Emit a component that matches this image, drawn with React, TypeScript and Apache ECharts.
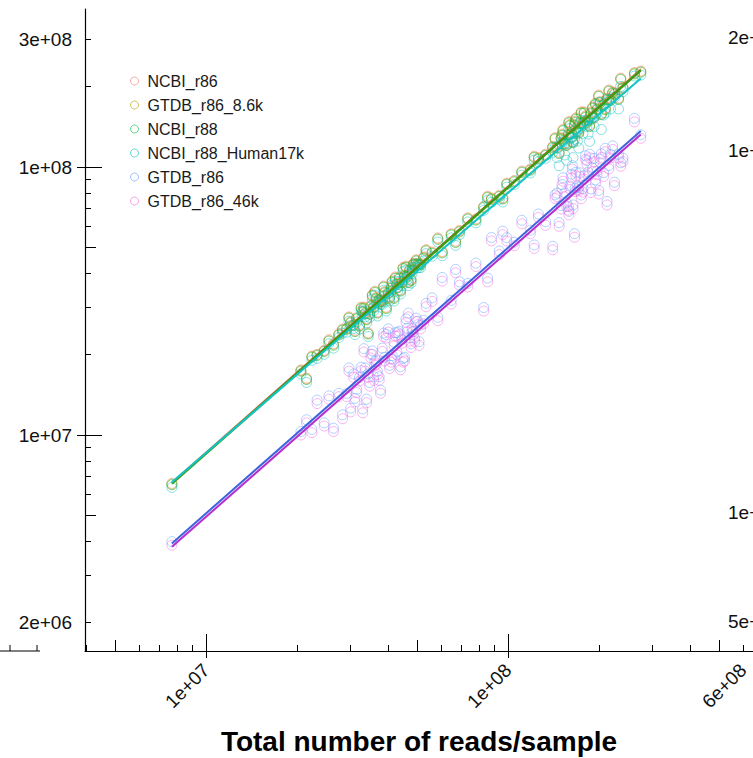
import React, { useEffect, useRef } from "react";
import * as echarts from "echarts";

const FONT = '"Liberation Sans", Arial, Helvetica, sans-serif';

const seriesNames = ["NCBI_r86", "GTDB_r86_8.6k", "NCBI_r88", "NCBI_r88_Human17k", "GTDB_r86", "GTDB_r86_46k"];
const pointColors = ["#F8766D", "#B79F00", "#00BA38", "#00BFC4", "#619CFF", "#F564E3"];
const lineColors = ["#E8604F", "#9A8500", "#3E9A12", "#12C4C4", "#3D63DE", "#B52ED0"];
const lineWidths = [1.2, 1.2, 2.4, 2, 2, 2];

// total reads per sample (millions)
const readsPerSample = [7.7, 20.6, 21.5, 22.4, 23.3, 24.6, 25.5, 26.4, 27.5, 29.2, 30.1, 30.8, 31.5, 32.2, 33.0, 33.6, 34.4, 35.1, 35.9, 36.6, 37.4, 38.3, 39.0, 40.1, 41.0, 41.9, 42.8, 43.6, 44.5, 45.4, 46.3, 47.2, 48.1, 49.0, 50.2, 51.3, 52.5, 56.0, 60.5, 64.8, 69.0, 73.5, 78.2, 83.0, 88.1, 93.5, 99.0, 104.8, 111.0, 118.5, 126.0, 133.0, 140.5, 145.2, 149.8, 154.0, 158.3, 162.1, 165.9, 169.5, 173.0, 176.8, 180.5, 184.0, 188.2, 192.5, 197.0, 201.8, 207.0, 212.5, 218.4, 225.0, 232.0, 240.0, 262.0, 275.0,
  29.7, 31.1, 32.6, 34.0, 35.5, 36.9, 38.7, 40.5, 42.3, 44.0, 45.9, 47.7, 49.6, 143.0, 147.5, 152.0, 156.1, 160.2, 164.0, 167.7, 171.3, 178.6, 186.1, 194.7, 203.5,
  33.3, 34.8, 36.2, 37.8, 39.5, 41.3, 43.1, 44.9, 46.7, 48.5, 50.7, 53.5, 28.3, 58.5, 67.0, 85.5, 96.0, 122.0, 150.8, 158.9, 163.2, 166.8, 174.6, 182.3, 190.4, 199.5, 209.8, 215.6, 222.0, 236.0];

// classified reads per sample (millions)
const ncbiR86 = [6.6, 17.5, 16.3, 19.7, 20.0, 20.7, 22.7, 21.9, 23.9, 25.1, 26.5, 25.9, 27.4, 25.8, 29.0, 28.6, 24.1, 30.5, 30.2, 32.6, 32.2, 31.8, 34.3, 34.1, 35.7, 32.7, 36.8, 38.8, 37.4, 39.5, 39.4, 41.5, 41.4, 43.6, 43.7, 43.6, 46.2, 48.2, 48.4, 56.4, 58.0, 64.7, 64.1, 71.4, 76.6, 78.5, 87.1, 89.1, 96.6, 98.4, 108.4, 111.7, 119.4, 119.1, 128.8, 123.2, 133.0, 134.5, 144.3, 137.3, 147.1, 146.7, 155.2, 150.9, 160.0, 154.0, 165.5, 175.6, 171.8, 180.6, 179.1, 189.0, 181.0, 199.2, 225.3, 228.3,
  27.6, 24.6, 30.0, 27.2, 33.4, 28.8, 36.0, 32.8, 38.9, 34.8, 42.7, 38.2, 45.1, 128.7, 113.6, 138.3, 121.8, 144.2, 124.6, 152.6, 135.3, 160.7, 143.3, 173.3, 158.7,
  30.0, 28.5, 34.4, 31.8, 30.0, 37.6, 35.8, 42.2, 37.4, 43.7, 43.6, 49.2, 24.9, 54.4, 52.9, 77.8, 76.8, 109.8, 132.7, 147.8, 130.6, 148.5, 160.6, 147.7, 167.6, 185.5, 165.7, 194.0, 190.9, 214.8];
const gtdbR86_8_6k = [6.55, 17.4, 16.2, 19.6, 19.9, 20.6, 22.5, 21.8, 23.7, 24.9, 26.3, 25.7, 27.2, 25.6, 28.8, 28.4, 23.9, 30.3, 30.0, 32.4, 32.0, 31.6, 34.1, 33.9, 35.4, 32.5, 36.5, 38.5, 37.1, 39.2, 39.1, 41.2, 41.1, 43.3, 43.4, 43.3, 45.9, 47.9, 48.1, 56.0, 57.6, 64.2, 63.7, 70.9, 76.1, 77.9, 86.5, 88.5, 95.9, 97.7, 107.6, 110.9, 118.6, 118.3, 127.9, 122.3, 132.1, 133.6, 143.3, 136.3, 146.1, 145.7, 154.1, 149.8, 158.9, 152.9, 164.3, 174.4, 170.6, 179.3, 177.8, 187.7, 179.7, 197.8, 223.7, 226.7,
  27.4, 24.4, 29.8, 27.0, 33.2, 28.6, 35.7, 32.6, 38.6, 34.6, 42.4, 37.9, 44.8, 127.8, 112.8, 137.3, 120.9, 143.2, 123.7, 151.5, 134.4, 159.6, 142.3, 172.1, 157.6,
  29.8, 28.3, 34.2, 31.6, 29.8, 37.3, 35.5, 41.9, 37.1, 43.4, 43.3, 48.9, 24.7, 54.0, 52.5, 77.3, 76.3, 109.0, 131.8, 146.8, 129.7, 147.5, 159.5, 146.7, 166.4, 184.2, 164.5, 192.6, 189.6, 213.3];
const ncbiR88 = [6.52, 17.3, 16.1, 19.5, 19.8, 20.5, 22.4, 21.6, 23.6, 24.8, 26.2, 25.6, 27.1, 25.5, 28.7, 28.3, 23.8, 30.1, 29.8, 32.2, 31.8, 31.4, 33.9, 33.7, 35.3, 32.3, 36.4, 38.3, 37.0, 39.0, 38.9, 41.0, 40.9, 43.1, 43.2, 43.1, 45.6, 47.6, 47.8, 55.7, 57.3, 63.9, 63.3, 70.5, 75.7, 77.6, 86.1, 88.0, 95.4, 97.2, 107.1, 110.4, 118.0, 117.7, 127.3, 121.7, 131.4, 132.9, 142.6, 135.7, 145.3, 144.9, 153.3, 149.1, 158.1, 152.2, 163.5, 173.5, 169.7, 178.4, 177.0, 186.7, 178.8, 196.8, 222.6, 225.6,
  27.3, 24.3, 29.6, 26.9, 33.0, 28.5, 35.6, 32.4, 38.4, 34.4, 42.2, 37.7, 44.6, 127.2, 112.2, 136.6, 120.3, 142.5, 123.1, 150.8, 133.7, 158.8, 141.6, 171.2, 156.8,
  29.6, 28.2, 34.0, 31.4, 29.6, 37.1, 35.4, 41.7, 37.0, 43.2, 43.1, 48.6, 24.6, 53.7, 52.3, 76.9, 75.9, 108.5, 131.1, 146.0, 129.0, 146.7, 158.7, 145.9, 165.6, 183.3, 163.7, 191.7, 188.6, 212.2];
const ncbiR88Human17k = [6.37, 16.9, 15.7, 19.0, 19.3, 20.0, 21.9, 21.1, 23.1, 24.2, 25.6, 25.0, 26.4, 24.9, 28.0, 27.6, 23.3, 29.4, 29.1, 31.5, 31.1, 30.7, 33.1, 32.9, 34.5, 31.6, 35.5, 37.4, 36.1, 38.1, 38.0, 40.0, 40.0, 42.1, 42.2, 42.1, 44.6, 46.5, 46.7, 54.4, 56.0, 62.4, 61.9, 68.9, 73.9, 75.8, 84.1, 86.0, 93.2, 95.0, 104.6, 107.8, 113.4, 108.4, 123.6, 110.9, 122.4, 129.1, 127.0, 124.9, 139.7, 133.5, 149.0, 132.8, 150.4, 141.7, 158.9, 168.6, 156.3, 173.4, 164.8, 181.4, 164.7, 191.2, 218.5, 220.3,
  26.6, 23.7, 29.0, 26.2, 32.2, 27.8, 34.7, 31.7, 37.5, 33.6, 41.2, 36.9, 43.5, 118.4, 101.1, 124.5, 106.0, 128.3, 108.4, 137.3, 117.7, 144.6, 124.7, 156.0, 138.1,
  29.0, 27.5, 33.2, 30.7, 29.0, 36.3, 34.5, 40.7, 36.1, 42.2, 42.1, 47.5, 24.0, 52.5, 51.0, 75.1, 74.1, 106.0, 122.1, 138.9, 124.1, 133.7, 149.4, 141.8, 152.5, 174.4, 159.1, 178.5, 181.4, 199.8];
const gtdbR86 = [4.0, 10.3, 11.4, 10.5, 13.5, 11.1, 14.0, 10.6, 14.3, 14.3, 12.6, 16.9, 14.8, 16.4, 12.5, 17.8, 16.9, 20.0, 16.5, 19.0, 16.5, 21.1, 19.5, 24.9, 19.3, 22.2, 20.5, 24.4, 22.7, 19.5, 25.0, 23.1, 25.0, 23.0, 26.6, 25.7, 26.8, 32.5, 38.7, 31.8, 37.3, 36.8, 43.8, 29.9, 54.6, 48.6, 54.5, 52.4, 63.3, 58.1, 66.8, 62.5, 50.6, 79.9, 71.9, 80.1, 71.2, 94.0, 56.4, 84.8, 95.2, 83.1, 110.1, 95.7, 82.8, 107.8, 96.5, 107.0, 95.2, 74.4, 111.4, 87.8, 111.4, 108.0, 152.0, 132.0,
  17.8, 13.7, 17.9, 13.6, 20.6, 17.3, 24.0, 18.2, 24.1, 18.0, 27.1, 21.9, 27.3, 78.7, 62.0, 91.2, 73.4, 84.9, 72.2, 95.6, 83.9, 92.9, 111.7, 89.6, 111.9,
  21.0, 15.7, 18.8, 14.7, 23.7, 19.8, 24.1, 19.3, 28.5, 24.3, 22.3, 31.0, 11.9, 27.5, 41.5, 38.5, 57.6, 51.2, 86.0, 68.3, 101.2, 83.4, 78.6, 105.7, 99.0, 81.8, 117.5, 101.3, 119.9, 103.8];
const gtdbR86_46k = [3.88, 10.0, 11.1, 10.2, 13.1, 10.8, 13.6, 10.3, 13.9, 13.9, 12.2, 16.4, 14.4, 15.9, 12.1, 17.3, 16.4, 19.4, 16.0, 18.4, 16.0, 20.5, 18.9, 24.2, 18.7, 21.5, 19.9, 23.7, 22.0, 18.9, 24.3, 22.4, 24.3, 22.3, 25.8, 24.9, 26.0, 31.5, 37.5, 30.8, 36.2, 35.7, 42.5, 29.0, 53.0, 47.1, 52.9, 50.8, 61.4, 56.4, 64.8, 60.6, 49.1, 77.5, 69.7, 77.7, 69.1, 91.2, 54.7, 82.3, 92.3, 80.6, 106.8, 92.8, 80.3, 104.6, 93.6, 103.8, 92.3, 72.2, 108.1, 85.2, 108.1, 104.8, 147.4, 128.0,
  17.3, 13.3, 17.4, 13.2, 20.0, 16.8, 23.3, 17.7, 23.4, 17.5, 26.3, 21.2, 26.5, 76.3, 60.1, 88.5, 71.2, 82.4, 70.0, 92.7, 81.4, 90.1, 108.3, 86.9, 108.5,
  20.4, 15.2, 18.2, 14.3, 23.0, 19.2, 23.4, 18.7, 27.6, 23.6, 21.6, 30.1, 11.5, 26.7, 40.3, 37.3, 55.9, 49.7, 83.4, 66.3, 98.2, 80.9, 76.2, 102.5, 96.0, 79.3, 114.0, 98.3, 116.3, 100.7];

const seriesValues = [ncbiR86, gtdbR86_8_6k, ncbiR88, ncbiR88Human17k, gtdbR86, gtdbR86_46k];

const xTickValues = [1e7, 1e8, 6e8];
const xTickLabels = ["1e+07", "1e+08", "6e+08"];
const yTickValues = [2e6, 1e7, 1e8, 3e8];
const yTickLabels = ["2e+06", "1e+07", "1e+08", "3e+08"];
const xRange = [3.97e6, 6.47e8];
const yRange = [1.563e6, 3.888e8];

// labels of the neighbouring panel, cut by the figure edge
const neighbourLabels = ["2e+08", "1e+08", "1e+07", "5e+06"];
const neighbourLabelY = [37, 150, 512, 621];

const lg = (v: number) => Math.log10(v);

function tickSet(lo: number, hi: number, pick: (m: number) => boolean) {
  const out: number[] = [];
  for (let d = Math.floor(lo) - 1; d <= Math.ceil(hi); d++) {
    for (let m = 1; m <= 9; m++) {
      if (!pick(m)) continue;
      const v = Math.log10(m) + d;
      if (v >= lo - 1e-9 && v <= hi + 1e-9) out.push(v);
    }
  }
  return out;
}

function rgba(hex: string, a: number) {
  const n = parseInt(hex.slice(1), 16);
  return `rgba(${(n >> 16) & 255},${(n >> 8) & 255},${n & 255},${a})`;
}

function fitLine(xs: number[], ys: number[]) {
  const lx = xs.map((v) => lg(v * 1e6));
  const ly = ys.map((v) => lg(v * 1e6));
  const n = lx.length;
  const mx = lx.reduce((a, b) => a + b, 0) / n;
  const my = ly.reduce((a, b) => a + b, 0) / n;
  let sxy = 0, sxx = 0;
  for (let i = 0; i < n; i++) {
    sxy += (lx[i] - mx) * (ly[i] - my);
    sxx += (lx[i] - mx) * (lx[i] - mx);
  }
  const b = sxy / sxx;
  const a = my - b * mx;
  const x0 = Math.min(...lx), x1 = Math.max(...lx);
  return [[x0, a + b * x0], [x1, a + b * x1]];
}

function labelFor(values: number[], labels: string[]) {
  return (v: number) => {
    for (let i = 0; i < values.length; i++) if (Math.abs(lg(values[i]) - v) < 1e-6) return labels[i];
    return "";
  };
}

export default function App() {
  const ref = useRef<HTMLDivElement>(null);
  useEffect(() => {
    const el = ref.current!;
    const chart = echarts.init(el, null, { renderer: "svg" });
    const xl = [lg(xRange[0]), lg(xRange[1])];
    const yl = [lg(yRange[0]), lg(yRange[1])];
    const tickLine = { color: "#000", width: 1 };

    const mkX = (ticks: number[], len: number, inside: boolean, main: boolean) => ({
      type: "value", gridIndex: 0, position: "bottom", min: xl[0], max: xl[1],
      axisLine: { show: main, onZero: false, lineStyle: { color: "#000", width: 1.2 } },
      axisTick: { show: true, inside, length: len, customValues: ticks, lineStyle: tickLine },
      axisLabel: main
        ? {
            show: true, customValues: xTickValues.map(lg), formatter: labelFor(xTickValues, xTickLabels),
            rotate: 45, margin: 16, align: "right", verticalAlign: "middle",
            fontSize: 19, color: "#111", fontFamily: FONT,
          }
        : { show: false },
      splitLine: { show: false },
      ...(main ? { name: "Total number of reads/sample", nameLocation: "middle", nameGap: 76, nameTextStyle: { fontSize: 28, fontWeight: "bold", color: "#000", fontFamily: FONT } } : {}),
    });
    const mkY = (ticks: number[], len: number, inside: boolean, main: boolean) => ({
      type: "value", gridIndex: 0, position: "left", min: yl[0], max: yl[1],
      axisLine: { show: main, onZero: false, lineStyle: { color: "#000", width: 1.2 } },
      axisTick: { show: true, inside, length: len, customValues: ticks, lineStyle: tickLine },
      axisLabel: main
        ? { show: true, customValues: yTickValues.map(lg), formatter: labelFor(yTickValues, yTickLabels), margin: 13, fontSize: 19, color: "#111", fontFamily: FONT }
        : { show: false },
      splitLine: { show: false },
    });

    const shortPick = (m: number) => m !== 1 && m !== 5;
    const midPick = (m: number) => m === 5;
    const longPick = (m: number) => m === 1;

    const xAxis = [
      mkX(tickSet(xl[0], xl[1], shortPick), 6, true, true),
      mkX(tickSet(xl[0], xl[1], midPick), 11, true, false),
      mkX(tickSet(xl[0], xl[1], longPick), 17, true, false),
      mkX(tickSet(xl[0], xl[1], longPick), 7, false, false),
    ];
    const yAxis = [
      mkY(tickSet(yl[0], yl[1], shortPick), 6, true, true),
      mkY(tickSet(yl[0], yl[1], midPick), 11, true, false),
      mkY(tickSet(yl[0], yl[1], longPick), 17, true, false),
      mkY(tickSet(yl[0], yl[1], longPick), 8, false, false),
    ];

    const scatter = seriesNames.map((name, i) => ({
      type: "scatter", name, xAxisIndex: 0, yAxisIndex: 0,
      data: readsPerSample.map((x, k) => [lg(x * 1e6), lg(seriesValues[i][k] * 1e6)]),
      symbol: "circle", symbolSize: 10, silent: true, z: 2,
      itemStyle: { color: "rgba(0,0,0,0)", borderColor: rgba(pointColors[i], 0.6), borderWidth: 1 },
      emphasis: { disabled: true },
    }));
    const lines = seriesNames.map((name, i) => ({
      type: "line", name: name + " fit", xAxisIndex: 0, yAxisIndex: 0,
      data: fitLine(readsPerSample, seriesValues[i]),
      symbol: "none", showSymbol: false, silent: true, z: 3,
      lineStyle: { color: lineColors[i], width: lineWidths[i] },
      emphasis: { disabled: true },
    }));

    const graphic: any[] = [
      { type: "line", shape: { x1: 0, y1: 651, x2: 40, y2: 651 }, style: { stroke: "#000", lineWidth: 1.2 } },
      { type: "line", shape: { x1: 10, y1: 645, x2: 10, y2: 651 }, style: { stroke: "#000", lineWidth: 1 } },
      { type: "line", shape: { x1: 37, y1: 645, x2: 37, y2: 651 }, style: { stroke: "#000", lineWidth: 1 } },
      ...neighbourLabels.map((t, i) => ({
        type: "text", x: 728, y: neighbourLabelY[i],
        style: { text: t, fontSize: 19, fontFamily: FONT, fill: "#111", align: "left", verticalAlign: "middle" },
      })),
    ];

    chart.setOption({
      animation: false,
      backgroundColor: "#fff",
      grid: { left: 85, right: 0, top: 9, bottom: 107, containLabel: false, outerBoundsMode: "none" },
      xAxis, yAxis,
      legend: {
        orient: "vertical", left: 125, top: 68, itemWidth: 8, itemHeight: 8, itemGap: 8,
        textStyle: { fontSize: 16, lineHeight: 16, color: "#1a1a1a", fontFamily: FONT, padding: [0, 0, 0, 4] },
        selectedMode: false,
        data: seriesNames.map((n, i) => ({
          name: n, icon: "circle",
          itemStyle: { color: "rgba(0,0,0,0)", borderColor: rgba(pointColors[i], 0.75), borderWidth: 1 },
        })),
      },
      series: [...scatter, ...lines],
      graphic,
    });
    return () => chart.dispose();
  }, []);
  return <div ref={ref} style={{ position: "fixed", left: 0, top: 0, width: 753, height: 758 }} />;
}
